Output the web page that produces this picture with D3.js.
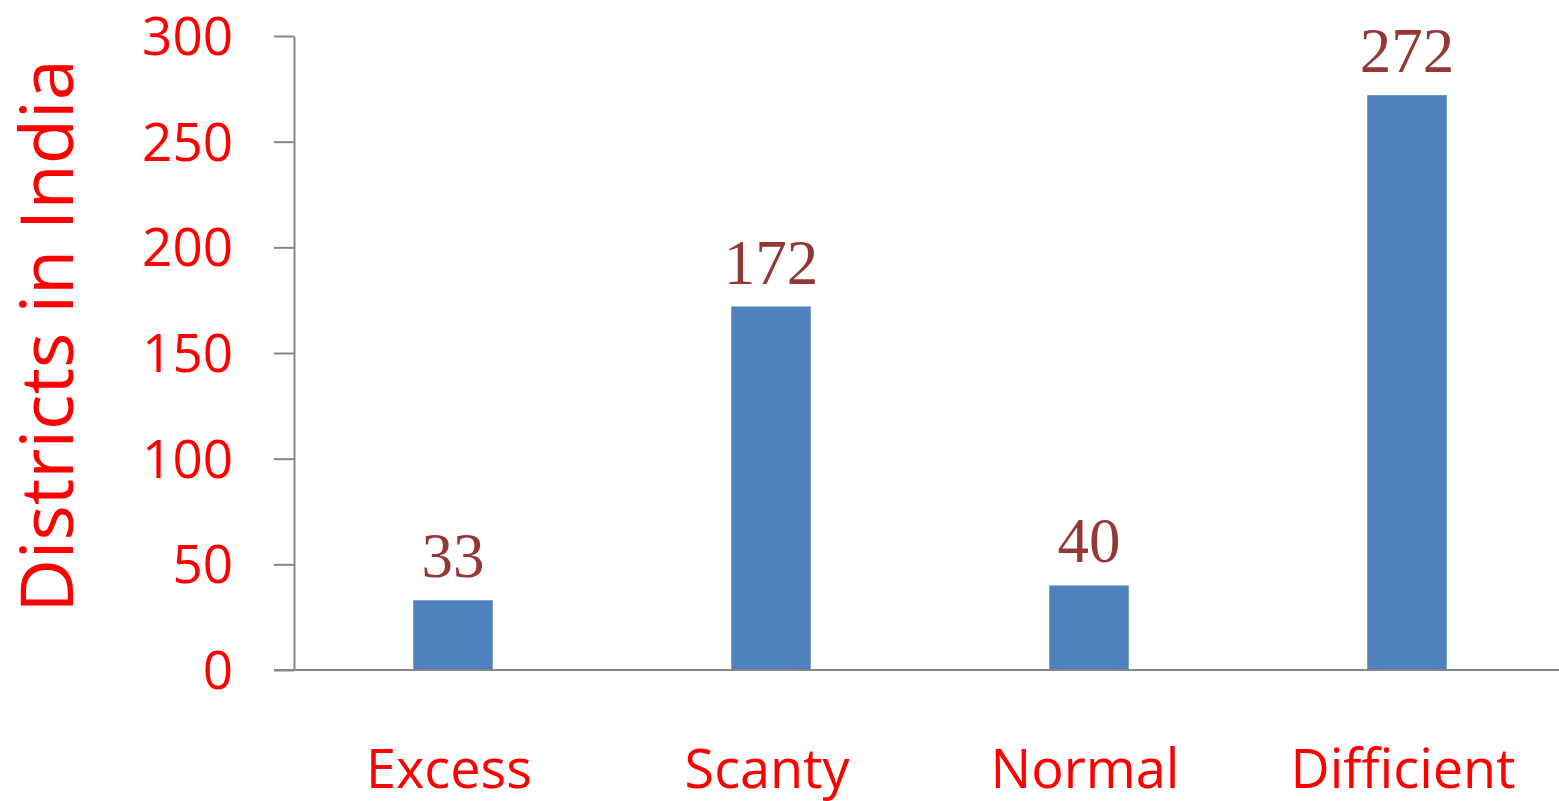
<!DOCTYPE html>
<html>
<head>
<meta charset="utf-8">
<script src="https://cdn.jsdelivr.net/npm/d3@7"></script>
<style>
  html, body { margin: 0; padding: 0; background: #fff; overflow: hidden; }
  .tick-lbl, .cat-lbl, .y-title { font-family: "Open Sans", sans-serif; fill: #ff0000; }
  .val-lbl { font-family: "Liberation Serif", "DejaVu Serif", serif; fill: #953735; }
</style>
</head>
<body>
<svg id="chart" width="1559" height="801"></svg>
<script>
/* ---------- dados ---------- */
const categories = ['Excess', 'Scanty', 'Normal', 'Difficient'];
const districts  = [33, 172, 40, 272];
const yTicks     = [0, 50, 100, 150, 200, 250, 300];

/* ---------- layout ---------- */
const W = 1559, H = 801;
const plot = { left: 294, right: 1566, top: 36, bottom: 670 };
const axisCol = '#868686';

const svg = d3.select('#chart');

const x = d3.scaleBand()
  .domain(categories)
  .range([plot.left, plot.right])
  .paddingInner(0.75)
  .paddingOuter(0.375);

const y = d3.scaleLinear()
  .domain([0, 300])
  .range([plot.bottom, plot.top]);

/* ---------- barras ---------- */
const rows = categories.map((c, i) => ({ cat: c, v: districts[i] }));

svg.append('g').selectAll('rect')
  .data(rows).enter()
  .append('rect')
  .attr('x', d => x(d.cat))
  .attr('y', d => y(d.v))
  .attr('width', x.bandwidth())
  .attr('height', d => y(0) - y(d.v))
  .attr('fill', '#4f81bd');

/* ---------- eixo y ---------- */
const yAxis = svg.append('g')
  .attr('transform', `translate(${plot.left},0)`)
  .call(d3.axisLeft(y).tickValues(yTicks).tickSize(20).tickSizeOuter(0).tickFormat(''));
yAxis.selectAll('line, path').attr('stroke', axisCol).attr('stroke-width', 2);

svg.append('g').selectAll('text')
  .data(yTicks).enter()
  .append('text')
  .attr('class', 'tick-lbl')
  .attr('x', 233)
  .attr('y', d => y(d))
  .attr('dy', '0.36em')
  .attr('text-anchor', 'end')
  .attr('font-size', 53)
  .text(d => d);

/* ---------- eixo x ---------- */
svg.append('line')
  .attr('x1', plot.left - 20).attr('x2', W)
  .attr('y1', y(0)).attr('y2', y(0))
  .attr('stroke', axisCol).attr('stroke-width', 2);

svg.append('g').selectAll('text')
  .data(categories).enter()
  .append('text')
  .attr('class', 'cat-lbl')
  .attr('x', d => x(d) + x.bandwidth() / 2 - 4)
  .attr('y', 788)
  .attr('text-anchor', 'middle')
  .attr('font-size', 54)
  .text(d => d);

/* ---------- rótulos de valor ---------- */
svg.append('g').selectAll('text')
  .data(rows).enter()
  .append('text')
  .attr('class', 'val-lbl')
  .attr('x', d => x(d.cat) + x.bandwidth() / 2)
  .attr('y', d => y(d.v) - 23)
  .attr('text-anchor', 'middle')
  .attr('font-size', 63)
  .text(d => d.v);

/* ---------- título do eixo y ---------- */
svg.append('text')
  .attr('class', 'y-title')
  .attr('transform', `translate(73,336) rotate(-90)`)
  .attr('text-anchor', 'middle')
  .attr('font-size', 74)
  .text('Districts in India');
</script>
</body>
</html>
